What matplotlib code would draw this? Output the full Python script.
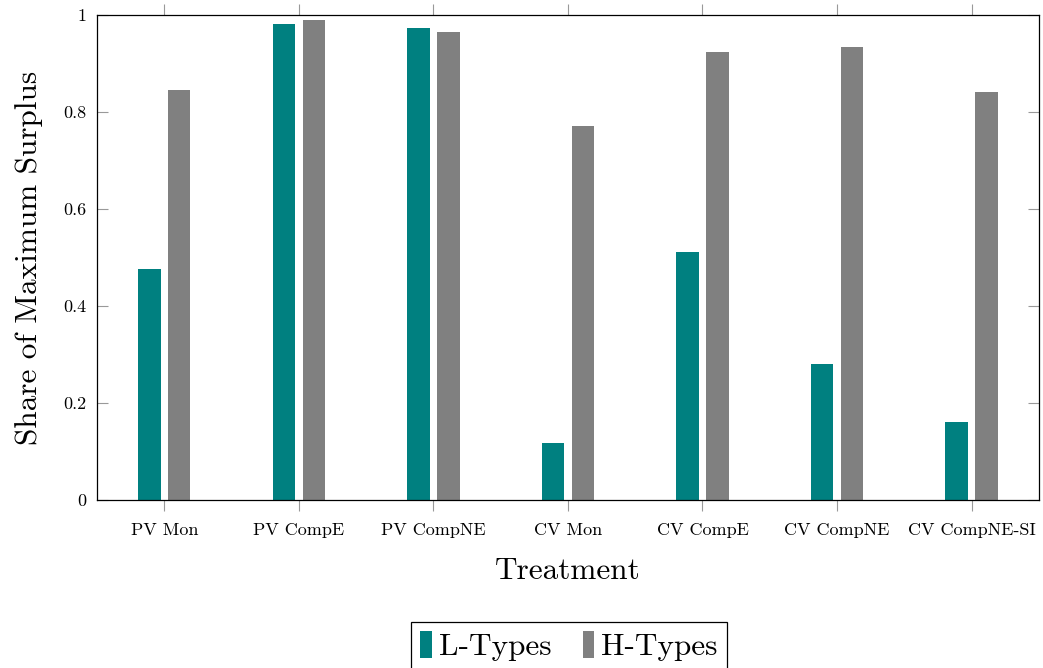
import matplotlib
matplotlib.use("Agg")
import matplotlib.pyplot as plt
import numpy as np

# Computer Modern look
matplotlib.rcParams['font.family'] = ['cmr10', 'DejaVu Serif']
matplotlib.rcParams['mathtext.fontset'] = 'cm'
matplotlib.rcParams['axes.formatter.use_mathtext'] = True

treatments = ["PV Mon", "PV CompE", "PV CompNE", "CV Mon",
              "CV CompE", "CV CompNE", "CV CompNE-SI"]
l_types = [0.476, 0.981, 0.974, 0.117, 0.511, 0.280, 0.160]
h_types = [0.845, 0.989, 0.964, 0.772, 0.923, 0.935, 0.842]
y_ticks = [0, 0.2, 0.4, 0.6, 0.8, 1]
y_tick_labels = ["0", "0.2", "0.4", "0.6", "0.8", "1"]

fig = plt.figure(figsize=(10.43, 6.68), dpi=100)
ax = fig.add_axes([0.093, 0.2515, 0.903, 0.726])

x = np.arange(len(treatments))
width = 0.167
offset = 0.111
ax.bar(x - offset, l_types, width, color='#008080', label='L-Types', zorder=2)
ax.bar(x + offset, h_types, width, color='#808080', label='H-Types', zorder=2)

ax.set_xlim(-0.5, len(treatments) - 0.5)
ax.set_ylim(0, 1)
ax.set_xticks(x)
ax.set_xticklabels(treatments, fontsize=13)
ax.set_yticks(y_ticks)
ax.set_yticklabels(y_tick_labels, fontsize=13)

ax.tick_params(axis='x', which='both', direction='out', length=8, width=0.8,
               color='#999999', top=True, pad=8)
ax.tick_params(axis='y', which='both', direction='in', length=8, width=0.8,
               color='#999999', right=True, pad=8)
for s in ax.spines.values():
    s.set_linewidth(0.9)
    s.set_zorder(3)

ax.set_xlabel("Treatment", fontsize=22.5, labelpad=14)
ax.set_ylabel("Share of Maximum Surplus", fontsize=22.5, labelpad=14)

leg = ax.legend(loc='upper center', bbox_to_anchor=(0.501, -0.2515), ncol=2,
                fontsize=22.5, frameon=True, fancybox=False, edgecolor='black',
                framealpha=1, handlelength=0.38, handleheight=0.93,
                handletextpad=0.22, columnspacing=1.0, borderpad=0.3,
                borderaxespad=0)
leg.get_frame().set_linewidth(0.9)

fig.savefig("out.png", dpi=100)
